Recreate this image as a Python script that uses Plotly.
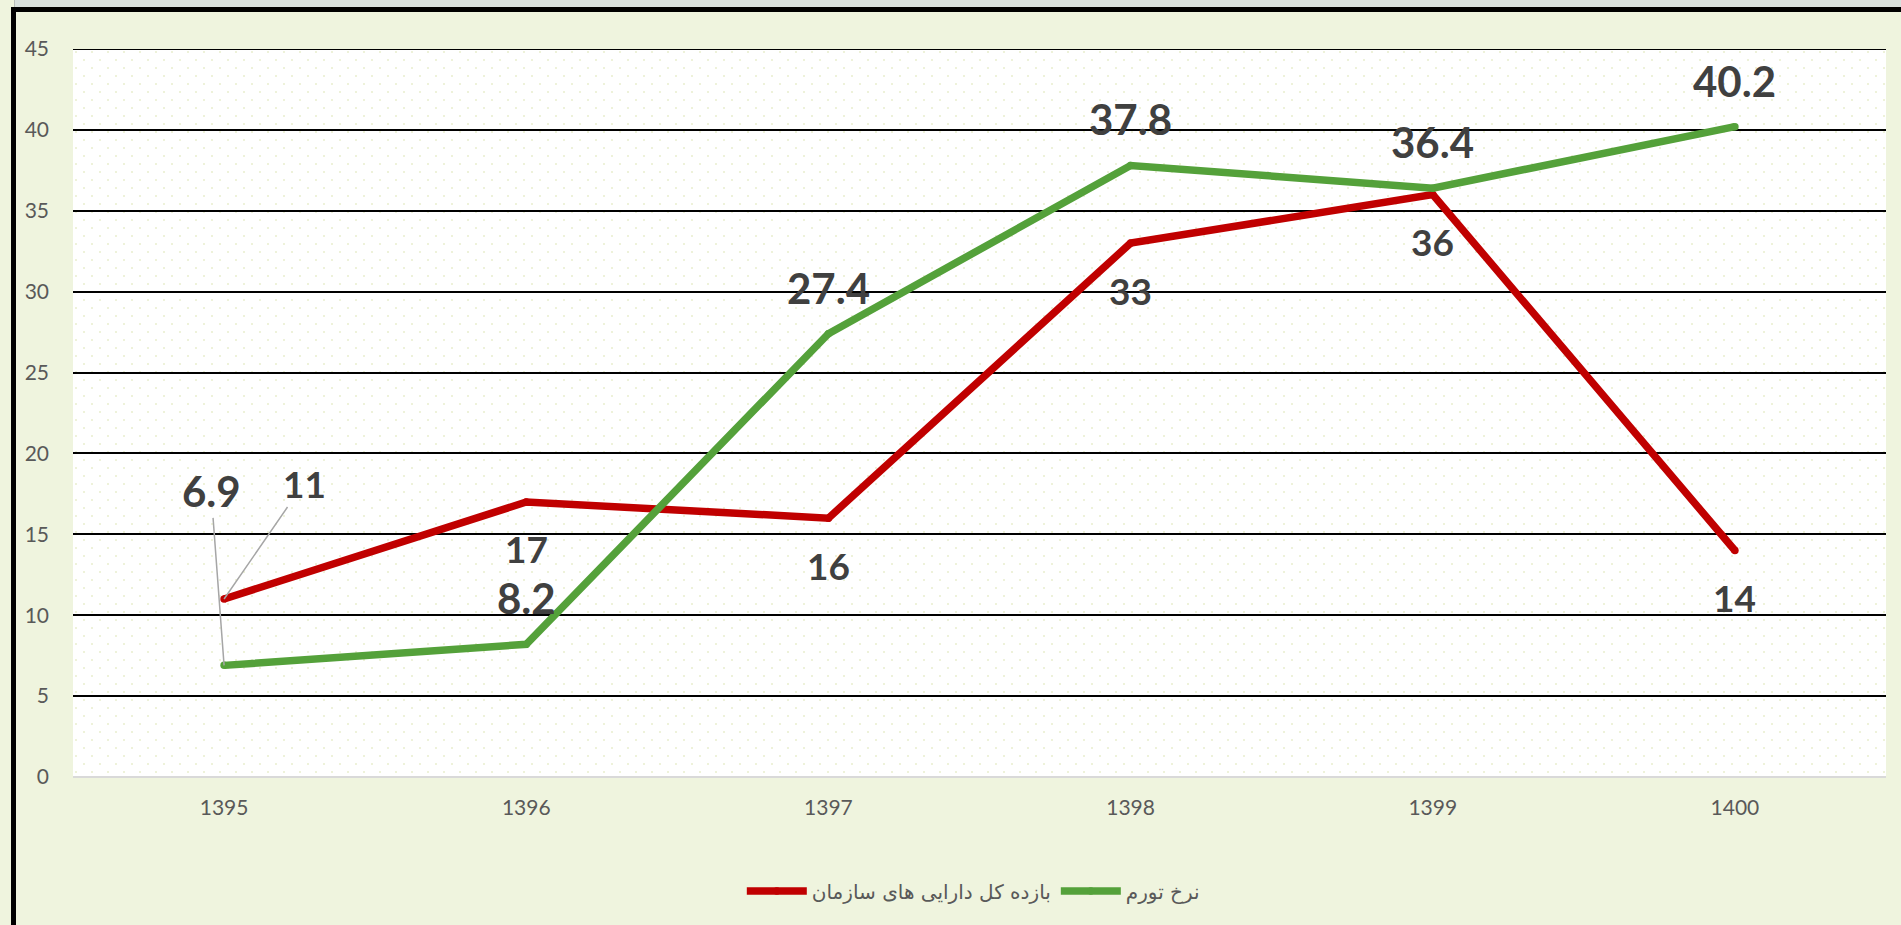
import base64
import plotly.graph_objects as go

# ---------------- data ----------------
years = ["1395", "1396", "1397", "1398", "1399", "1400"]
roa_name = "بازده کل دارایی های سازمان"
roa = [11, 17, 16, 33, 36, 14]
inflation_name = "نرخ تورم"
inflation = [6.9, 8.2, 27.4, 37.8, 36.4, 40.2]
y_tick_values = [0, 5, 10, 15, 20, 25, 30, 35, 40, 45]

# ---------------- style ----------------
W, H = 1901, 925
ML, MR, MT, MB = 73, 15, 49, 148
RED = "#C00000"
GREEN = "#54A13A"
PAPER = "#EFF4DE"
TICK_COLOR = "#595959"
LABEL_COLOR = "#404040"
FONT = "Lato, 'DejaVu Sans', sans-serif"
LEGEND_FONT = "'DejaVu Sans', sans-serif"
LINE_W = 7.5

pw = W - ML - MR
ph = H - MT - MB


def px_x(px):
    return (px - ML) / pw


def px_y(py):
    return (H - MB - py) / ph


# faint dotted texture of the plot area (white with pale green dots)
svg = (
    '<svg xmlns="http://www.w3.org/2000/svg" width="%d" height="%d">'
    '<defs><pattern id="p" width="16" height="16" patternUnits="userSpaceOnUse">'
    '<rect width="16" height="16" fill="#FFFFFF"/>'
    '<rect x="2" y="2" width="2" height="2" fill="#EEF2DA"/>'
    '<rect x="10" y="10" width="2" height="2" fill="#EEF2DA"/>'
    '</pattern></defs>'
    '<rect width="100%%" height="100%%" fill="url(#p)"/></svg>' % (pw, ph)
)
texture = "data:image/svg+xml;base64," + base64.b64encode(svg.encode()).decode()

fig = go.Figure()
fig.add_trace(go.Scatter(
    x=years, y=roa, name=roa_name, mode="lines+markers",
    line=dict(color=RED, width=LINE_W),
    marker=dict(color=RED, size=LINE_W, line=dict(width=0)),
))
fig.add_trace(go.Scatter(
    x=years, y=inflation, name=inflation_name, mode="lines+markers",
    line=dict(color=GREEN, width=LINE_W),
    marker=dict(color=GREEN, size=LINE_W, line=dict(width=0)),
))

annotations = []
green_font = dict(family=FONT, size=42, color=LABEL_COLOR)
red_font = dict(family=FONT, size=37, color=LABEL_COLOR)
for i, yr in enumerate(years):
    g_txt = "<b>%s</b>" % inflation[i]
    r_txt = "<b>%s</b>" % roa[i]
    # category axis: annotation x given as the category's serial index
    if i == 0:
        # labels moved away with leader lines
        annotations.append(dict(
            xref="x", yref="y", x=i, y=inflation[i], text=g_txt, font=green_font,
            showarrow=True, arrowhead=0, arrowwidth=1.5, arrowcolor="#A6A6A6",
            ax=-13, ay=-174,
        ))
        annotations.append(dict(
            xref="x", yref="y", x=i, y=roa[i], text=r_txt, font=red_font,
            showarrow=True, arrowhead=0, arrowwidth=1.5, arrowcolor="#A6A6A6",
            ax=80, ay=-116,
        ))
    else:
        annotations.append(dict(
            xref="x", yref="y", x=i, y=inflation[i], text=g_txt, font=green_font,
            showarrow=False, yshift=46, yanchor="middle",
        ))
        annotations.append(dict(
            xref="x", yref="y", x=i, y=roa[i], text=r_txt, font=red_font,
            showarrow=False, yshift=-47, yanchor="middle",
        ))

# decorative frame (screenshot border) + top gridline at the range edge
shapes = [
    dict(type="rect", xref="paper", yref="paper", layer="below",
         x0=px_x(14), x1=px_x(W + 20), y0=px_y(7), y1=px_y(-5),
         fillcolor="#D8E0DC", line=dict(width=0)),
    dict(type="line", xref="paper", yref="paper",
         x0=px_x(14.5), x1=px_x(14.5), y0=px_y(0), y1=px_y(7),
         line=dict(color="#B8BEBA", width=1)),
    dict(type="rect", xref="paper", yref="paper", layer="below",
         x0=px_x(11), x1=px_x(W + 20), y0=px_y(12), y1=px_y(7),
         fillcolor="#000000", line=dict(width=0)),
    dict(type="rect", xref="paper", yref="paper", layer="below",
         x0=px_x(11), x1=px_x(16), y0=px_y(H + 20), y1=px_y(7),
         fillcolor="#000000", line=dict(width=0)),
    dict(type="line", xref="paper", yref="y", layer="below",
         x0=0, x1=1, y0=y_tick_values[-1], y1=y_tick_values[-1],
         line=dict(color="#000000", width=2)),
]

fig.update_layout(
    width=W, height=H,
    margin=dict(l=ML, r=MR, t=MT, b=MB, pad=0),
    paper_bgcolor=PAPER,
    plot_bgcolor="rgba(255,255,255,0)",
    images=[dict(source=texture, xref="paper", yref="paper", x=0, y=1,
                 sizex=1, sizey=1, xanchor="left", yanchor="top",
                 sizing="stretch", layer="below")],
    font=dict(family=FONT, color=TICK_COLOR, size=21),
    showlegend=True,
    legend=dict(
        orientation="h", xref="container", yref="container",
        x=0.512, xanchor="center", y=1 - 891 / H, yanchor="middle",
        font=dict(family=LEGEND_FONT, size=20, color=TICK_COLOR),
        bgcolor="rgba(0,0,0,0)", itemwidth=60,
    ),
    xaxis=dict(
        type="category", categoryorder="array", categoryarray=years,
        range=[-0.5, len(years) - 0.5],
        showgrid=False, showline=False, zeroline=False, ticks="",
        tickfont=dict(family=FONT, size=21, color=TICK_COLOR),
        ticklabelstandoff=16,
    ),
    yaxis=dict(
        range=[0, 45], tickvals=y_tick_values,
        showgrid=True, gridcolor="#000000", gridwidth=2,
        zeroline=True, zerolinecolor="#D9D9D9", zerolinewidth=2,
        showline=False, ticks="",
        tickfont=dict(family=FONT, size=21, color=TICK_COLOR),
        ticklabelstandoff=23,
    ),
    annotations=annotations,
    shapes=shapes,
)

fig.write_html(
    "out.html",
    config={"displayModeBar": False},
    post_script="document.body.style.margin='0';document.body.style.overflow='hidden';",
)
